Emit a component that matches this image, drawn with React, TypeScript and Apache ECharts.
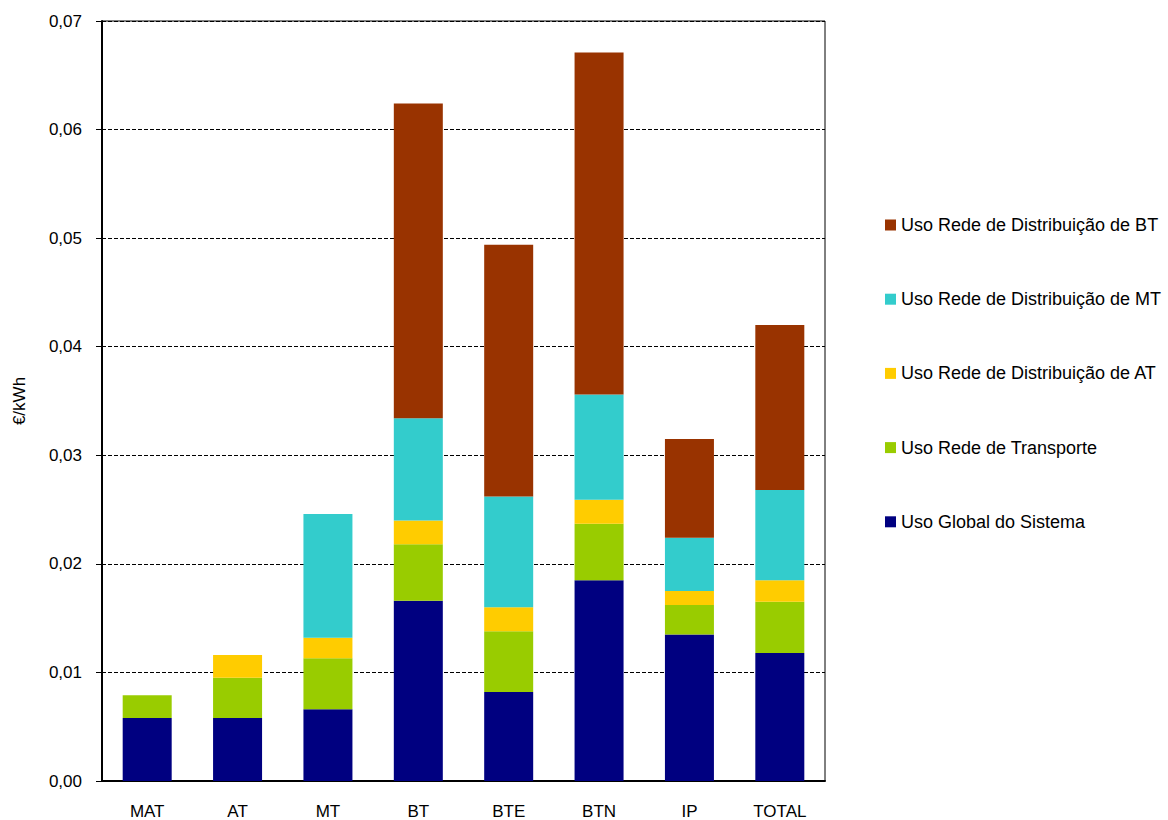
import React, { useEffect, useRef } from "react";
import * as echarts from "echarts";

const categories = ["MAT", "AT", "MT", "BT", "BTE", "BTN", "IP", "TOTAL"];
const usoGlobal = [0.0058, 0.0058, 0.0066, 0.0166, 0.0082, 0.0185, 0.0135, 0.0118];
const usoTransporte = [0.0021, 0.0037, 0.0047, 0.0052, 0.0056, 0.0052, 0.0027, 0.0047];
const usoDistAT = [0, 0.0021, 0.0019, 0.0022, 0.0022, 0.0022, 0.0013, 0.002];
const usoDistMT = [0, 0, 0.0114, 0.0094, 0.0102, 0.0097, 0.0049, 0.0083];
const usoDistBT = [0, 0, 0, 0.029, 0.0232, 0.0315, 0.0091, 0.0152];
const yTicks = [0, 0.01, 0.02, 0.03, 0.04, 0.05, 0.06, 0.07];

const names = {
  global: "Uso Global do Sistema",
  transp: "Uso Rede de Transporte",
  at: "Uso Rede de Distribuição de AT",
  mt: "Uso Rede de Distribuição de MT",
  bt: "Uso Rede de Distribuição de BT",
};

const FONT = "Liberation Sans, Arial, sans-serif";

export default function App() {
  const ref = useRef<HTMLDivElement>(null);
  useEffect(() => {
    if (!ref.current) return;
    const chart = echarts.init(ref.current, null, { renderer: "svg" });
    const mk = (name: string, data: number[], color: string) => ({
      name,
      type: "bar",
      stack: "total",
      data,
      barWidth: 49,
      itemStyle: { color },
      emphasis: { disabled: true },
    });
    chart.setOption({
      animation: false,
      backgroundColor: "#ffffff",
      textStyle: { fontFamily: FONT, color: "#000" },
      grid: {
        left: 102,
        right: 343,
        top: 21,
        bottom: 38.5,
        show: true,
        borderColor: "#000",
        borderWidth: 1,
      },
      legend: {
        orient: "vertical",
        left: 880,
        top: 209,
        itemWidth: 11,
        itemHeight: 11,
        itemGap: 52.2,
        icon: "rect",
        textStyle: { fontFamily: FONT, fontSize: 18, color: "#000", lineHeight: 22 },
        data: [names.bt, names.mt, names.at, names.transp, names.global],
      },
      xAxis: {
        type: "category",
        data: categories,
        axisLine: { lineStyle: { color: "#000", width: 2 } },
        axisTick: { show: false },
        axisLabel: { fontFamily: FONT, fontSize: 17, color: "#000", margin: 22 },
      },
      yAxis: {
        type: "value",
        min: yTicks[0],
        max: yTicks[yTicks.length - 1],
        interval: 0.01,
        name: "€/kWh",
        nameLocation: "middle",
        nameGap: 74,
        nameTextStyle: { fontFamily: FONT, fontSize: 17, color: "#000" },
        axisLine: { show: true, lineStyle: { color: "#000", width: 2 } },
        axisTick: { show: true, inside: false, length: 6, lineStyle: { color: "#000", width: 1 } },
        axisLabel: {
          fontFamily: FONT,
          fontSize: 17,
          color: "#000",
          margin: 20,
          formatter: (v: number) => v.toFixed(2).replace(".", ","),
        },
        splitLine: { show: true, lineStyle: { color: "#000", width: 1, type: [4, 2] } },
      },
      series: [
        mk(names.global, usoGlobal, "#000080"),
        mk(names.transp, usoTransporte, "#99CC00"),
        mk(names.at, usoDistAT, "#FFCC00"),
        mk(names.mt, usoDistMT, "#33CCCC"),
        mk(names.bt, usoDistBT, "#993300"),
      ],
    });
    return () => chart.dispose();
  }, []);
  return (
    <div
      ref={ref}
      style={{ position: "absolute", left: 0, top: 0, width: 1168, height: 820 }}
    />
  );
}
